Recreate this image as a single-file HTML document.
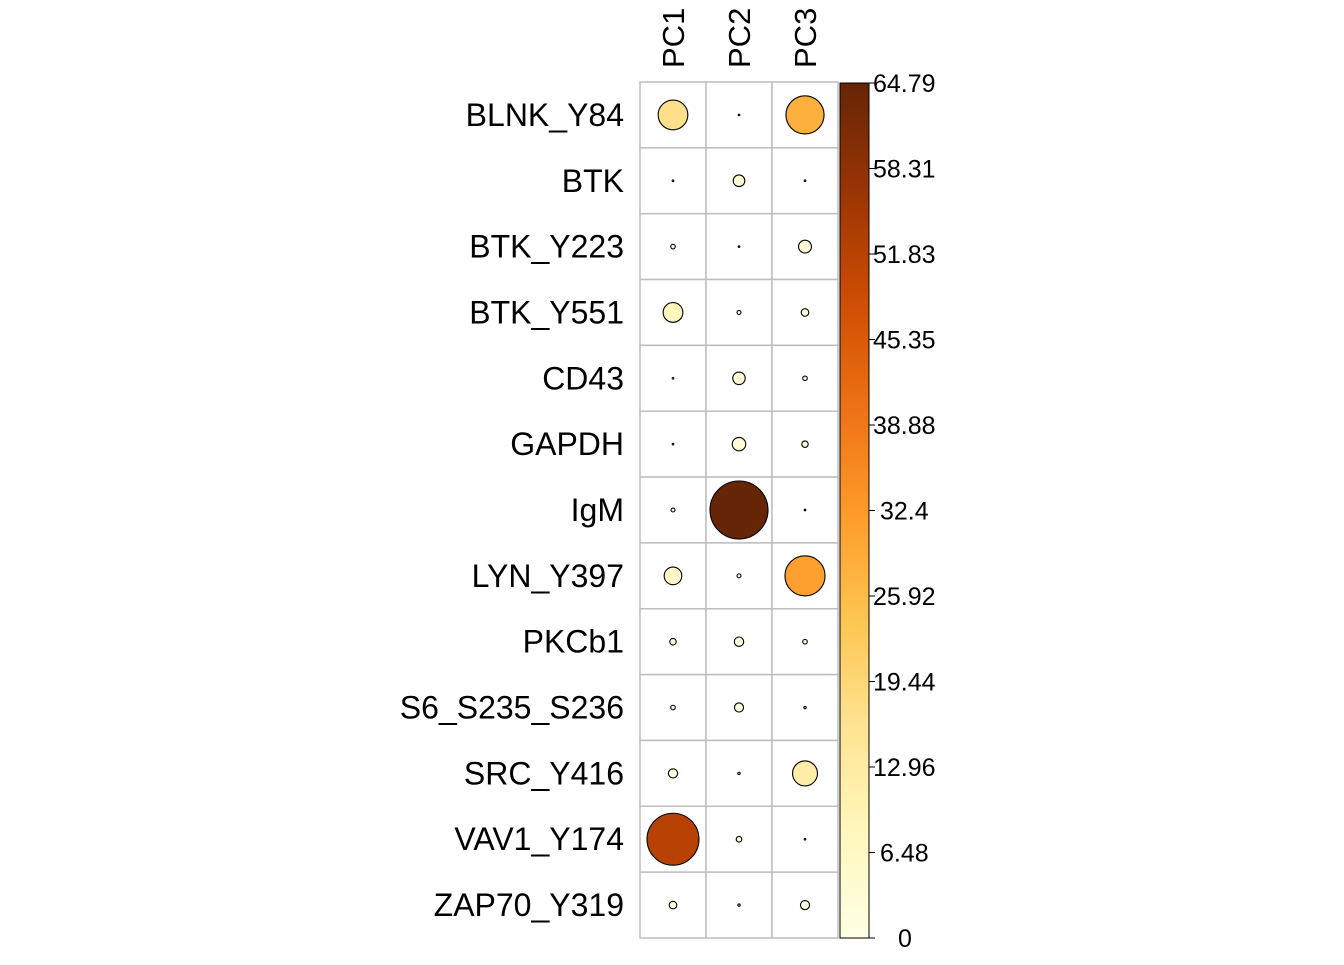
<!DOCTYPE html>
<html><head><meta charset="utf-8">
<style>
html,body{margin:0;padding:0;background:#fff;}
svg text{font-family:"Liberation Sans",Arial,sans-serif;}
</style></head>
<body>
<svg id="chart" width="1344" height="960" viewBox="0 0 1344 960" xmlns="http://www.w3.org/2000/svg">
<g id="grid"></g>
<g id="circles"></g>
<g id="labels"></g>
<g id="colorbar"></g>
</svg>
<script>
const rows = ["BLNK_Y84","BTK","BTK_Y223","BTK_Y551","CD43","GAPDH","IgM","LYN_Y397","PKCb1","S6_S235_S236","SRC_Y416","VAV1_Y174","ZAP70_Y319"];
const cols = ["PC1","PC2","PC3"];
const pc1 = [17,0.05,0.4,7.5,0.05,0.05,0.3,6,0.8,0.4,1.6,52,1.1];
const pc2 = [0.05,2.6,0.05,0.3,3,3.5,64.79,0.3,1.7,1.6,0.1,0.6,0.1];
const pc3 = [28,0.05,3.2,1.1,0.4,0.8,0.05,31,0.4,0.1,12,0.05,1.6];
const tickLabels = ["0","6.48","12.96","19.44","25.92","32.4","38.88","45.35","51.83","58.31","64.79"];
const maxVal = 64.79;

const NS="http://www.w3.org/2000/svg";
function mk(tag,attrs,parent){const e=document.createElementNS(NS,tag);for(const k in attrs)e.setAttribute(k,attrs[k]);parent.appendChild(e);return e;}
const x0=640,cw=66,y0=82,rh=(938-82)/13;
const xS=j=>x0+cw*j+cw/2, yS=i=>y0+rh*i+rh/2;
const rS=v=>Math.sqrt(v/maxVal)*29;
const pal=["#FFFFE5","#FFF7BC","#FEE391","#FEC44F","#FE9929","#EC7014","#CC4C02","#993404","#662506"];
function col(v){let t=Math.max(0,Math.min(1,v/maxVal))*(pal.length-1);let i=Math.min(pal.length-2,Math.floor(t));let f=t-i;
 const a=pal[i],b=pal[i+1];const c=k=>Math.round(parseInt(a.substr(k,2),16)*(1-f)+parseInt(b.substr(k,2),16)*f);
 return `rgb(${c(1)},${c(3)},${c(5)})`;}
const grid=document.getElementById('grid'),circ=document.getElementById('circles'),lab=document.getElementById('labels'),cb=document.getElementById('colorbar');
for(let i=0;i<rows.length;i++)for(let j=0;j<3;j++){
 const r=mk('rect',{x:x0+cw*j,y:y0+rh*i,width:cw,height:rh,fill:'#fff',stroke:'#bebebe','stroke-width':1.5},grid);
 
 
}
const series=[pc1,pc2,pc3];
series.forEach((s,j)=>s.forEach((v,i)=>{
 const c=mk('circle',{cx:xS(j),cy:yS(i),r:Math.max(rS(v),0.3),fill:col(v),stroke:'#000','stroke-width':1.1},circ);
 
 
}));
rows.forEach((n,i)=>{
 const t=mk('text',{x:624,y:yS(i)+11,'text-anchor':'end','font-size':32,fill:'#000'},lab);t.textContent=n;
 
 
});
cols.forEach((n,j)=>{
 const t=mk('text',{x:xS(j)+11,y:68,transform:`rotate(-90 ${xS(j)+11} 68)`,'font-size':31,fill:'#000'},lab);t.textContent=n;
 
 
});
const cbT=83,cbB=938,cbX=840,cbW=29;
const defs=mk('defs',{},cb);const g=mk('linearGradient',{id:'grad',x1:0,y1:1,x2:0,y2:0},defs);
pal.forEach((p,k)=>mk('stop',{offset:k/(pal.length-1),'stop-color':p},g));
const bar=mk('rect',{x:cbX,y:cbT,width:cbW,height:cbB-cbT,fill:'url(#grad)',stroke:'#000','stroke-width':1},cb);


tickLabels.forEach((l,k)=>{
 const y=cbB-(cbB-cbT)*k/(tickLabels.length-1);
 const ln=mk('line',{x1:cbX+cbW,x2:cbX+cbW+6,y1:y,y2:y,stroke:'#000','stroke-width':1},cb);
 
 
 const t=mk('text',{x:873,y:y+9,'font-size':25,fill:'#000'},cb);t.textContent=l;
 if(l==="6.48"||l==="32.4")t.setAttribute('x',880);
 if(l==="0")t.setAttribute('x',898);
 
 
});
</script>
</body></html>
